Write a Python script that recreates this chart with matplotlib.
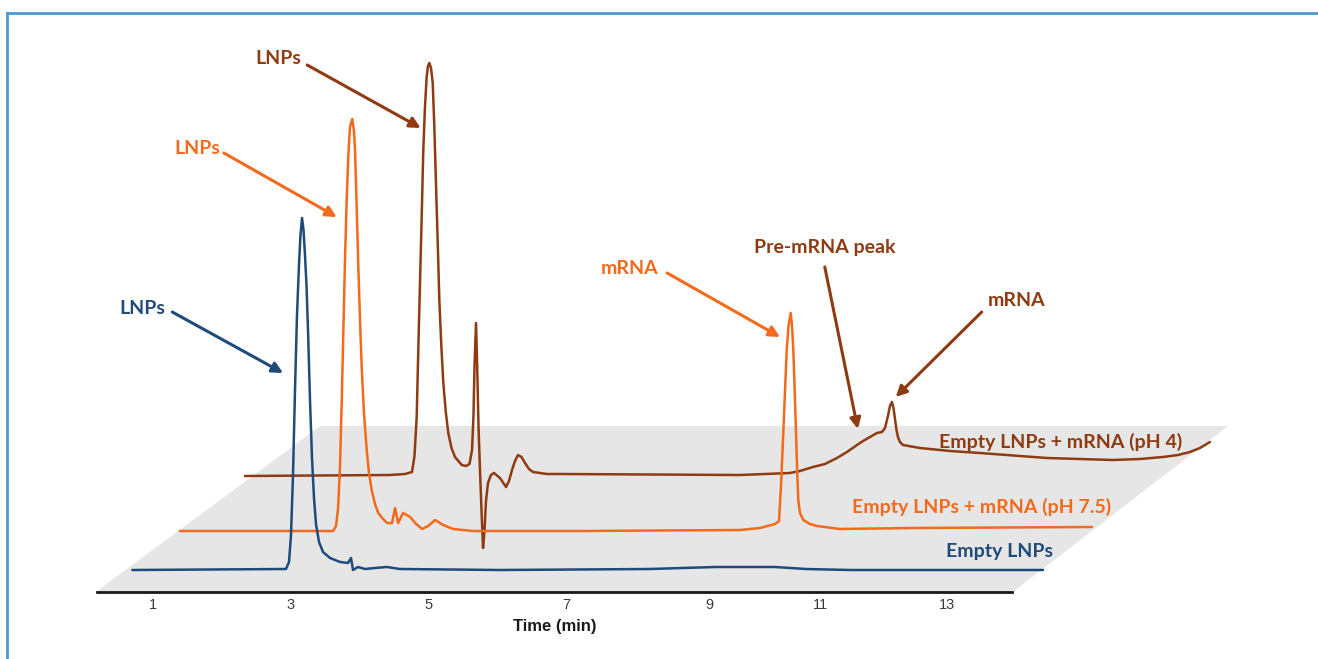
import matplotlib
matplotlib.use("Agg")
import matplotlib.pyplot as plt
from matplotlib.patches import Polygon
from matplotlib.lines import Line2D

# ---------------- data (each trace in its own time frame, signal in a.u.) ----------------
blue_time = [0.70, 2.932, 2.976, 3.005, 3.034, 3.063, 3.092, 3.121, 3.143, 3.165, 3.187,
             3.208, 3.230, 3.252, 3.281, 3.310, 3.339, 3.368, 3.412, 3.470, 3.572, 3.717,
             3.833, 3.877, 3.906, 3.978, 4.080, 4.225, 4.397, 4.588, 6.041, 8.220, 9.165,
             10.037, 10.487, 11.126, 13.931]
blue_signal = [0, 1, 8, 35, 95, 180, 255, 305, 335, 352, 340,
               315, 285, 240, 170, 112, 72, 46, 28, 18, 12, 8,
               7, 12, 0, 3, 1, 2, 3, 1, 0, 1, 3,
               3, 1, 0, 0]

orange_time = [0.66, 2.885, 2.929, 2.958, 2.987, 3.012, 3.035, 3.059, 3.084, 3.107, 3.132,
               3.165, 3.190, 3.205, 3.229, 3.253, 3.278, 3.302, 3.335, 3.375, 3.408, 3.447,
               3.495, 3.543, 3.612, 3.671, 3.743, 3.787, 3.831, 3.904, 4.006, 4.093, 4.180,
               4.267, 4.369, 4.485, 4.631, 4.921, 6.473, 8.798, 9.089, 9.307, 9.365, 9.394,
               9.427, 9.452, 9.477, 9.503, 9.535, 9.554, 9.573, 9.593, 9.612, 9.629, 9.645,
               9.670, 9.718, 9.815, 9.917, 10.251, 11.312, 13.912]
orange_signal = [0, 0, 5, 22, 64, 130, 198, 270, 331, 375, 404,
                 412, 400, 381, 325, 264, 210, 164, 118, 81, 58, 41,
                 27, 18, 12, 8, 8, 23, 8, 18, 14, 7, 2,
                 5, 11, 6, 2, 0, 0, 1, 3, 7, 10, 45,
                 98, 140, 181, 205, 218, 205, 181, 140, 98, 60, 31,
                 18, 11, 7, 5, 2, 3, 4]

brown_time = [0.637, 2.743, 2.961, 3.063, 3.099, 3.131, 3.154, 3.179, 3.204, 3.227, 3.252,
              3.276, 3.295, 3.314, 3.339, 3.364, 3.387, 3.411, 3.436, 3.460, 3.489, 3.518,
              3.554, 3.590, 3.637, 3.688, 3.785, 3.847, 3.898, 3.935, 3.956, 3.971, 3.993,
              4.010, 4.029, 4.051, 4.073, 4.095, 4.116, 4.138, 4.167, 4.210, 4.254, 4.341,
              4.429, 4.472, 4.516, 4.559, 4.603, 4.654, 4.705, 4.763, 4.821, 5.024, 5.213,
              7.828, 8.554, 8.699, 8.889, 9.062, 9.237, 9.382, 9.528, 9.615, 9.717, 9.818,
              9.891, 9.935, 9.978, 10.007, 10.036, 10.058, 10.080, 10.102, 10.123, 10.152,
              10.196, 10.443, 10.879, 11.315, 12.288, 12.768, 13.247, 13.640, 13.973,
              14.192, 14.365, 14.511, 14.656]
brown_signal = [0, 1, 2, 4, 20, 59, 125, 193, 260, 326, 370,
                399, 410, 413, 408, 393, 350, 293, 235, 176, 130, 93,
                64, 43, 28, 19, 11, 10, 12, 26, 60, 110, 153,
                110, 50, 5, -35, -72, -55, -25, -7, 1, 3, -2,
                -11, -5, 6, 15, 21, 19, 13, 7, 4, 2, 2,
                1, 3, 5, 9, 12, 18, 24, 31, 35, 39, 43,
                44, 48, 60, 70, 74, 68, 57, 46, 39, 34,
                31, 28, 25, 23, 18, 17, 16, 17, 19,
                21, 24, 28, 34]

series_names = ["Empty LNPs", "Empty LNPs + mRNA (pH 7.5)", "Empty LNPs + mRNA (pH 4)"]
tick_labels = ["1", "3", "5", "7", "9", "11", "13"]
tick_positions = [1, 3, 5, 7, 9.08, 10.69, 12.54]

# ---------------- style / layout ----------------
C_BLUE = "#1F4B7A"
C_ORANGE = "#F26A1B"
C_BROWN = "#8E3B12"
FLOOR = "#E6E6E6"
FONT = ["Lato", "DejaVu Sans"]
NARROW = ["Liberation Sans Narrow", "Liberation Sans", "DejaVu Sans"]

# perspective offsets (time offset in min, signal offset in a.u.)
offsets = {"blue": (0.0, 0.0), "orange": (0.73, 39.0), "brown": (1.70, 94.0)}

W, H = 1318, 659
fig = plt.figure(figsize=(W / 100, H / 100), dpi=100)
ax = fig.add_axes([97 / W, 67 / H, (1012 - 97) / W, 592 / H])
px_per_min = 68.83
x0 = 1 - (153 - 97) / px_per_min
x1 = 1 + (1012 - 153) / px_per_min
ax.set_xlim(x0, x1)
ax.set_ylim(-22, 570)
ax.patch.set_alpha(0)

for s in ["top", "right", "left"]:
    ax.spines[s].set_visible(False)
ax.spines["bottom"].set_linewidth(2)
ax.spines["bottom"].set_color("#1a1a1a")
ax.set_yticks([])
ax.set_xticks(tick_positions)
ax.set_xticklabels(tick_labels, fontfamily=NARROW, fontsize=10.5, color="#3a3a3a")
ax.tick_params(axis="x", length=0, pad=4)
ax.set_xlabel("Time (min)", fontfamily=NARROW, fontsize=12, fontweight="bold",
              color="#1a1a1a", labelpad=5)

# floor (pseudo-3D plane)
floor = Polygon([(x0 - 0.02, -22), (3.43, 144), (16.62, 144), (x1 + 0.01, -22)],
                closed=True, facecolor=FLOOR, edgecolor="none", zorder=0, clip_on=False)
ax.add_patch(floor)


def shifted(t, s, key):
    dx, dy = offsets[key]
    return [v + dx for v in t], [v + dy for v in s]


bt, bs = shifted(blue_time, blue_signal, "blue")
ot, os_ = shifted(orange_time, orange_signal, "orange")
rt, rs = shifted(brown_time, brown_signal, "brown")
line_kw = dict(lw=1.8, clip_on=False, solid_joinstyle="round", solid_capstyle="round")
ax.plot(rt, rs, color=C_BROWN, zorder=2, **line_kw)
ax.plot(ot, os_, color=C_ORANGE, zorder=3, **line_kw)
ax.plot(bt, bs, color=C_BLUE, zorder=4, **line_kw)

# trace labels
lab_kw = dict(fontfamily=FONT, fontsize=14, fontweight="bold", ha="center", va="center",
              clip_on=False, zorder=6)
ax.text(14.18, 128, series_names[2], color=C_BROWN, **lab_kw)
ax.text(13.04, 63, series_names[1], color=C_ORANGE, **lab_kw)
ax.text(13.30, 18, series_names[0], color=C_BLUE, **lab_kw)


def note(text, xy, xytail, xytext, color):
    ax.annotate("", xy=xy, xytext=xytail, annotation_clip=False, zorder=6,
                arrowprops=dict(arrowstyle="-|>", color=color, lw=2.2, mutation_scale=16,
                                shrinkA=0, shrinkB=0))
    ax.text(xytext[0], xytext[1], text, color=color, **lab_kw)


note("LNPs", (2.89, 197), (1.28, 258), (0.84, 261), C_BLUE)
note("LNPs", (3.67, 353), (2.03, 417), (1.64, 422), C_ORANGE)
note("LNPs", (4.89, 442), (3.24, 505), (2.82, 511), C_BROWN)
note("mRNA", (10.11, 233), (8.47, 297), (7.93, 302), C_ORANGE)
note("Pre-mRNA peak", (11.24, 141), (10.76, 303), (10.76, 322), C_BROWN)
note("mRNA", (11.79, 173), (13.04, 258), (13.55, 269), C_BROWN)

# thin blue frame (top and left)
fig.add_artist(Line2D([7 / W, 1], [1 - 13 / H, 1 - 13 / H], transform=fig.transFigure,
                      color="#4A9BD0", lw=2))
fig.add_artist(Line2D([7 / W, 7 / W], [0, 1 - 13 / H], transform=fig.transFigure,
                      color="#4A9BD0", lw=2))

fig.savefig("out.png", dpi=100)
